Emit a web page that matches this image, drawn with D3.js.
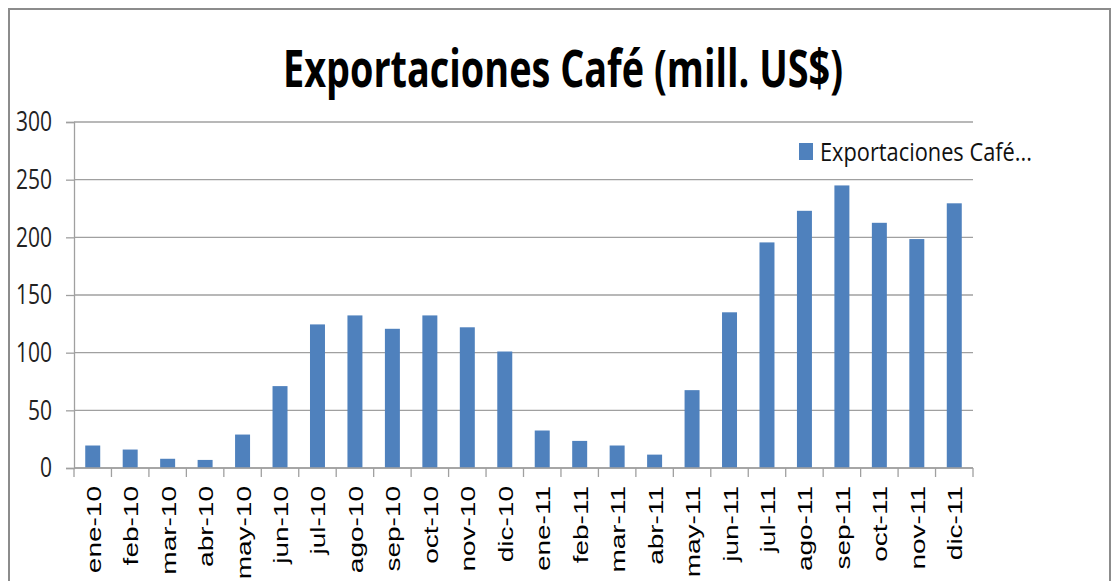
<!DOCTYPE html>
<html>
<head>
<meta charset="utf-8">
<script src="https://cdn.jsdelivr.net/npm/d3@7"></script>
<style>
  body { margin: 0; background: #fff; }
  svg { display: block; }
</style>
</head>
<body>
<svg id="chart" width="1119" height="581"></svg>
<script>
// data
const months = ["ene-10", "feb-10", "mar-10", "abr-10", "may-10", "jun-10", "jul-10", "ago-10",
    "sep-10", "oct-10", "nov-10", "dic-10", "ene-11", "feb-11", "mar-11", "abr-11", "may-11",
    "jun-11", "jul-11", "ago-11", "sep-11", "oct-11", "nov-11", "dic-11"];
const exportsCafe = [19.5, 16, 8, 7, 29, 71, 124.5, 132.3, 120.7, 132.3, 122, 101,
    32.5, 23.5, 19.5, 11.6, 67.5, 135, 195.6, 223, 245, 212.6, 198.5, 229.5];
const yTicks = [0, 50, 100, 150, 200, 250, 300];
const seriesName = "Exportaciones Café...";
const title = "Exportaciones Café (mill. US$)";

let svg = d3.select('#chart'),
    margin = {left: 74, top: 122, right: 146, bottom: 113},
    width = +svg.attr("width") - margin.left - margin.right,
    height = +svg.attr("height") - margin.top - margin.bottom,
    barColor = "#4f81bd",
    gridColor = "#a0a0a0";

// outer frame
svg.append("rect")
    .attr("x", 9).attr("y", 9)
    .attr("width", 1101).attr("height", 590)
    .attr("fill", "none")
    .attr("stroke", "#8c8c8c")
    .attr("stroke-width", 2);

svg.append("text")
    .attr("transform", "translate(563,87) scale(1,1.3)")
    .attr("text-anchor", "middle")
    .attr("font-family", "Open Sans")
    .attr("font-weight", "bold")
    .attr("font-size", 40)
    .attr("textLength", 560)
    .attr("lengthAdjust", "spacingAndGlyphs")
    .attr("fill", "#000")
    .text(title);

let g = svg.append("g").attr("transform", "translate(" + margin.left + "," + margin.top + ")");

let x = d3.scaleBand().domain(months).range([0, width]).paddingInner(0.6).paddingOuter(0.3);
let y = d3.scaleLinear().domain([0, 300]).range([height, 0]);

// gridlines
g.append("g").selectAll("line").data(yTicks).enter().append("line")
    .attr("x1", 0).attr("x2", width)
    .attr("y1", d => y(d)).attr("y2", d => y(d))
    .attr("stroke", gridColor).attr("stroke-width", 1.3);

let yAxis = g.append("g")
    .call(d3.axisLeft(y).tickValues(yTicks).tickSize(8).tickPadding(14));
yAxis.select(".domain").attr("stroke", gridColor).attr("stroke-width", 1.3);
yAxis.selectAll(".tick line").attr("stroke", gridColor).attr("stroke-width", 1.3);
yAxis.selectAll(".tick text")
    .attr("font-family", "Open Sans")
    .attr("font-size", 21)
    .attr("fill", "#222")
    .attr("transform", "scale(1,1.3)");

g.selectAll(".bar").data(exportsCafe).enter().append("rect")
    .attr("class", "bar")
    .attr("x", (d, i) => x(months[i]))
    .attr("y", d => y(d))
    .attr("width", x.bandwidth())
    .attr("height", d => height - y(d))
    .attr("fill", barColor);

// category axis with ticks between bands
let step = x.step();
let xAxis = g.append("g").attr("transform", "translate(0," + height + ")");
xAxis.append("line")
    .attr("x1", 0).attr("x2", width)
    .attr("stroke", gridColor).attr("stroke-width", 1.3);
xAxis.selectAll(".tk").data(d3.range(months.length + 1)).enter().append("line")
    .attr("class", "tk")
    .attr("x1", i => i * step).attr("x2", i => i * step)
    .attr("y1", 0).attr("y2", 9)
    .attr("stroke", gridColor).attr("stroke-width", 1.3);
xAxis.selectAll(".lbl").data(months).enter().append("text")
    .attr("class", "lbl")
    .attr("transform", d => "translate(" + (x(d) + x.bandwidth() / 2 + 8) + ",18) rotate(-90) scale(1.4,1)")
    .attr("text-anchor", "end")
    .attr("font-family", "Liberation Sans")
    .attr("font-size", 20)
    .attr("fill", "#000")
    .text(d => d);

// legend
let legend = svg.append("g");
legend.append("rect")
    .attr("x", 799).attr("y", 143)
    .attr("width", 14).attr("height", 17)
    .attr("fill", barColor);
legend.append("text")
    .attr("transform", "translate(820,161) scale(1,1.3)")
    .attr("font-family", "Open Sans")
    .attr("font-size", 19)
    .attr("textLength", 212)
    .attr("lengthAdjust", "spacingAndGlyphs")
    .attr("fill", "#111")
    .text(seriesName);
</script>
</body>
</html>
